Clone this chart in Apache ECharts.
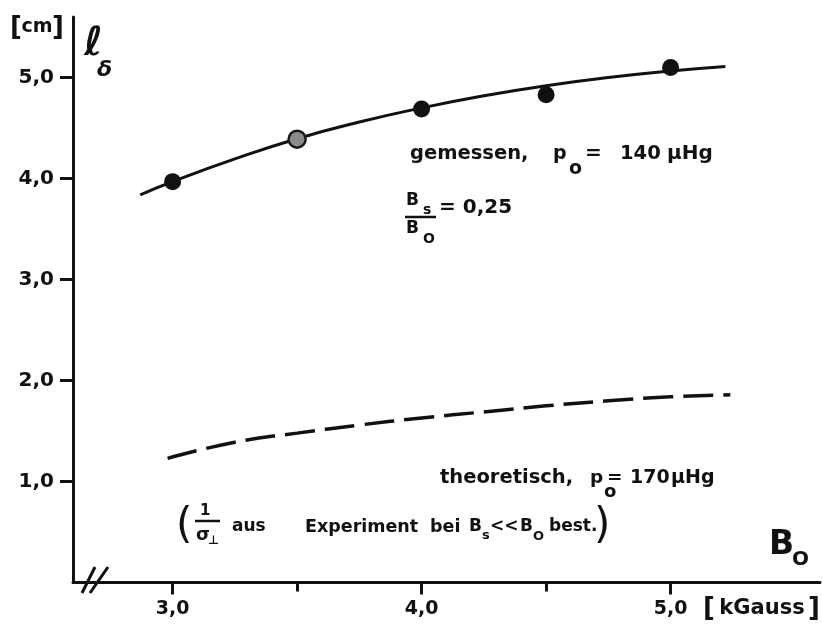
<!DOCTYPE html>
<html>
<head>
<meta charset="utf-8">
<script src="https://cdn.jsdelivr.net/npm/echarts@6/dist/echarts.min.js"></script>
<style>
html,body{margin:0;padding:0;background:#fff;}
#c{width:822px;height:627px;}
</style>
</head>
<body>
<div id="c"></div>
<script>
// ---- data ----
const xTicks = [3.0, 4.0, 5.0];
const xMinorTicks = [3.5, 4.5];
const yTicks = [1.0, 2.0, 3.0, 4.0, 5.0];

// measured points (gemessen, p0 = 140 µHg)
const measuredX = [3.0, 3.5, 4.0, 4.5, 5.0];
const measuredY = [3.97, 4.39, 4.69, 4.83, 5.10];

// fitted solid curve through the measurements
const fitX = [2.87, 3.0, 3.25, 3.5, 3.75, 4.0, 4.25, 4.5, 4.75, 5.0, 5.22];
const fitY = [3.84, 3.97, 4.195, 4.395, 4.56, 4.70, 4.82, 4.92, 5.00, 5.065, 5.11];

// theoretical dashed curve (theoretisch, p0 = 170 µHg)
const theoX = [2.98, 3.25, 3.5, 3.75, 4.0, 4.25, 4.5, 4.75, 5.0, 5.24];
const theoY = [1.23, 1.39, 1.48, 1.56, 1.63, 1.69, 1.75, 1.80, 1.84, 1.86];

const FONT = 'DejaVu Sans';
const INK = '#111111';
const fmt = v => v.toFixed(1).replace('.', ',');

function txt(x, y, text, size, extra) {
  return {
    type: 'text', z: 10,
    style: Object.assign({
      x: x, y: y, text: text,
      fontFamily: FONT, fontWeight: 'bold', fontSize: size,
      fill: INK, textAlign: 'left', textVerticalAlign: 'middle'
    }, extra || {})
  };
}
function ln(x1, y1, x2, y2, w) {
  return { type: 'line', z: 10, shape: {x1, y1, x2, y2},
    style: { stroke: INK, lineWidth: w || 3 } };
}

const chart = echarts.init(document.getElementById('c'), null, {renderer: 'canvas'});

const option = {
  backgroundColor: '#ffffff',
  animation: false,
  grid: { left: 73, right: 2, top: 17, bottom: 44.4, containLabel: false },
  xAxis: [{
    type: 'value', min: 2.6, max: 5.6, position: 'bottom',
    axisLine: { show: true, lineStyle: { color: INK, width: 3 } },
    axisTick: { show: true, customValues: xTicks, length: 12, lineStyle: { color: INK, width: 3 } },
    axisLabel: { customValues: xTicks, formatter: fmt, fontFamily: FONT, fontWeight: 'bold',
      fontSize: 19, color: INK, margin: 17 },
    splitLine: { show: false }
  }, {
    type: 'value', min: 2.6, max: 5.6, position: 'bottom',
    axisLine: { show: false },
    axisTick: { show: true, customValues: xMinorTicks, length: 9, lineStyle: { color: INK, width: 3 } },
    axisLabel: { show: false },
    splitLine: { show: false }
  }],
  yAxis: {
    type: 'value', min: 0, max: 5.6,
    axisLine: { show: true, lineStyle: { color: INK, width: 3 } },
    axisTick: { show: true, customValues: yTicks, length: 13, lineStyle: { color: INK, width: 3 } },
    axisLabel: { customValues: yTicks, formatter: fmt, fontFamily: FONT, fontWeight: 'bold',
      fontSize: 20, color: INK, margin: 19 },
    splitLine: { show: false }
  },
  series: [{
    type: 'line', xAxisIndex: 0, smooth: 0.5, showSymbol: false,
    data: fitX.map((x, i) => [x, fitY[i]]),
    lineStyle: { color: INK, width: 3 }
  }, {
    type: 'line', xAxisIndex: 0, smooth: 0.5, showSymbol: false,
    data: theoX.map((x, i) => [x, theoY[i]]),
    lineStyle: { color: INK, width: 3.5, type: [30, 10] }
  }, {
    type: 'scatter', xAxisIndex: 0, symbolSize: 17, z: 5,
    data: measuredX.map((x, i) => {
      const d = { value: [x, measuredY[i]] };
      if (x === 3.5) d.itemStyle = { color: '#8a8a8a', borderColor: '#1a1a1a', borderWidth: 2.5, opacity: 1 };
      return d;
    }),
    itemStyle: { color: INK, opacity: 1 }
  }],
  graphic: [
    // axis break marks
    ln(82, 593, 95, 567, 3),
    ln(90, 593, 108, 567, 3),
    // y unit and symbol
    txt(10, 28, '[', 26),
    txt(37, 27, 'cm', 19, { textAlign: 'center' }),
    txt(52, 28, ']', 26),
    txt(84, 45, 'ℓ', 40, { fontStyle: 'italic' }),
    txt(97, 70, 'δ', 22, { fontStyle: 'italic' }),
    // x unit and symbol
    txt(703, 609, '[', 26),
    txt(762, 609, 'kGauss', 21, { textAlign: 'center' }),
    txt(808, 609, ']', 26),
    txt(769, 545, 'B', 33),
    txt(792, 560, 'O', 20),
    // gemessen row
    txt(410, 154, 'gemessen,', 19.5),
    txt(553, 154, 'p', 19),
    txt(569, 169, 'o', 19),
    txt(585, 154, '=', 20),
    txt(620, 154, '140', 19.5),
    txt(667, 154, 'µHg', 20),
    // Bs / Bo = 0,25
    txt(406, 201, 'B', 17),
    txt(423, 210, 's', 14),
    ln(405, 217, 436, 217, 2.5),
    txt(439, 208, '= 0,25', 20),
    txt(406, 229, 'B', 17),
    txt(423, 239, 'O', 14),
    // theoretisch row
    txt(440, 478, 'theoretisch,', 19.5),
    txt(590, 478, 'p', 18.5),
    txt(604, 492, 'o', 18),
    txt(607, 478, '=', 18.5),
    txt(630, 478, '170', 19),
    txt(671, 478, 'µHg', 19),
    // bracket remark row
    txt(176, 527, '(', 42, { fontWeight: 'normal' }),
    txt(200, 511, '1', 15),
    ln(195, 521, 220, 521, 2.5),
    txt(196, 535, 'σ', 18),
    txt(208, 541, '⊥', 12),
    txt(232, 527, 'aus', 17),
    txt(305, 527, 'Experiment', 17.5),
    txt(430, 527, 'bei', 17.5),
    txt(469, 527, 'B', 17),
    txt(482, 536, 's', 13),
    txt(490, 527, '<<', 17),
    txt(520, 527, 'B', 17),
    txt(533, 537, 'O', 13),
    txt(549, 527, 'best.', 17),
    txt(594, 527, ')', 42, { fontWeight: 'normal' })
  ]
};
chart.setOption(option);
</script>
</body>
</html>
